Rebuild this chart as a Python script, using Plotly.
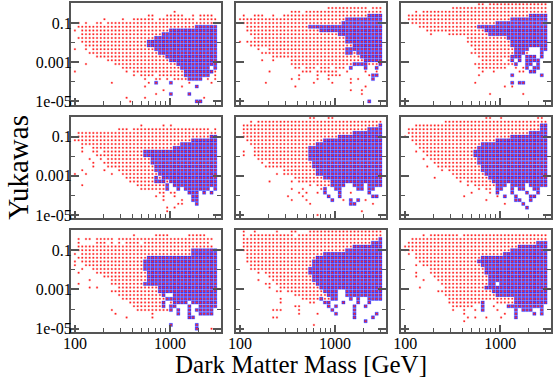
import plotly.graph_objects as go
from plotly.subplots import make_subplots

# scan grid: dark matter mass [GeV] (39 columns) and Yukawa coupling (27 rows)
MASS = [100, 109.4, 119.6, 130.8, 143.0, 156.4, 171.1, 187.1, 204.6, 223.7,
        244.7, 267.6, 292.6, 320.0, 350.0, 382.8, 418.6, 457.8, 500.7, 547.5,
        598.8, 654.8, 716.1, 783.2, 856.5, 936.7, 1024, 1120, 1225, 1340,
        1465, 1602, 1752, 1916, 2096, 2292, 2507, 2741, 3000]
YUK = [1.0e-5, 1.55e-5, 2.40e-5, 3.73e-5, 5.78e-5, 8.96e-5, 1.39e-4, 2.16e-4,
       3.34e-4, 5.18e-4, 8.03e-4, 1.245e-3, 1.93e-3, 2.99e-3, 4.64e-3, 7.20e-3,
       1.116e-2, 1.73e-2, 2.68e-2, 4.16e-2, 6.45e-2, 0.100, 0.155, 0.240,
       0.373, 0.578, 0.896]

X_TICKS = [100, 1000]
X_TEXT = ["100", "1000"]
X_MINOR = [200, 300, 400, 500, 600, 700, 800, 900, 2000, 3000]
Y_TICKS = [1e-5, 1e-3, 1e-1]
Y_TEXT = ["1e-05", "0.001", "0.1"]
Y_MINOR = [1e-4, 1e-2]

# each panel: rows from top (largest Yukawa) down, one char per mass column
# '.' nothing   'r' red point   'b' blue point (with red point on top)
P11 = [
    "..........|..........|..........|.........",
    "..........|..........|..........|.........",
    "..........|..........|.......r..|.........",
    "..........|..........|rr...rrrrr|..r.rrrr.",
    "........r.|...r..rrrr|rr.rrrrrrr|rrr.rrrrr",
    ".r.r..rr.r|rrrrrrrrrr|rrrrrrrrrr|rrrrrrrrr",
    ".rrrrrrrrr|rrrrrrrrrr|rrrrrrrrrr|rrrbbbbbb",
    "r.rrrrrrrr|rrrrrrrrrr|rrrrrrbbbb|bbbbbbbbb",
    "..rrrrrrrr|rrrrrrrrrr|rrrrbbbbbb|bbbbbbbbb",
    ".rrrrrrrrr|rrrrrrrrrr|rrbbbbbbbb|bbbbbbbbb",
    "..rrrrrrrr|rrrrrrrrrr|bbbbbbbbbb|bbbbbbbbb",
    "...rrrrrrr|rrrrrrrrrr|bbbbbbbbbb|bbbbbbbbb",
    "r..r.rrrrr|rrrrrrrrrr|rrbbbbbbbb|bbbbbbbbb",
    "....rrrrrr|rrrrrrrrrr|rrrbbbbbbb|bbbbbbbbb",
    "......rrrr|rrrrrrrrrr|rrrrrbbbbb|bbbbbbbbb",
    ".........r|rrrrrrrrrr|rrrrrrbbbb|bbbbbbbbb",
    "...r......|.rrrrrrrrr|rrrrrrrrbb|bbbbbbbbb",
    "..........|...rrrrrrr|rrrrrrrrrb|bbbbbbb.b",
    "r.........|....r.rrrr|rrrrrrrrrr|bbbbbbbbr",
    "..........|......r.rr|rr.rrrrrrr|bbbbbbb.r",
    "..........|.........r|..rr.r.rrr|rbbbb.r.r",
    "..........|r.........|r.b...b...|.r.....r.",
    "..........|.........r|.........r|...b.....",
    "..........|..........|....r.....|.........",
    "..........|..........|..r...b...|.b.......",
    "..........|....r....r|..........|.....r...",
    "..........|.....r....|..........|...bb....",
]
P12 = [
    "..........|..........|..........|.........",
    "..........|..........|....rrrrrr|rrrrr.rrr",
    "..........|....rrr.rr|rrrrrrrrrr|rrrrrrrrr",
    ".r..rrr..r|..rrrrrrrr|rrrrrrrrrr|rrrrrbbbb",
    "rrrrrrrrrr|rrrrrrrrrr|rrrrrrrrrb|bbbbbbbbb",
    ".rrrrrrrrr|rrrrrrrrrr|rrrrrrrrbb|bbbbbbbbb",
    "..rrrrrrrr|rrrrrrrrrb|bbbbbbbbbb|bbbbbbbbb",
    "..rrrrrrrr|rrrrrrrrrr|rrbbbbbbbb|bbbbbbbbb",
    "...rrrrrrr|rrrrrrrrrr|rrrrrrrbbb|bbbbbbbbb",
    "....rrrrrr|rrrrrrrrrr|rrrrrrrrrb|bbbbbbbbb",
    "r.rrrrrrrr|rrrrrrrrrr|rrrrrrrrrb|bbbbbbbbb",
    "...rrrrrrr|rrrrrrrrrr|rrrrrrrrrr|rbbbbbbbb",
    ".....r..rr|rrrrrrrrrr|rrrrrrrrrb|bbbbbbbbb",
    "......rrrr|rrrrrrrrrr|rrrrrrrrrb|brbbbbbbb",
    ".........r|rrrrrrrrrr|rrrrrrrrrr|rrrbbbbbb",
    "......r..r|....rrrrrr|rrrrrrrrrr|rrrrbbbbb",
    "..........|....rrrrrr|rrrrrrrrrr|rbbbbrrrb",
    "..........|.....rr.rr|r.rrr.rrr.|b...b..b.",
    "........r.|.......rrr|.rrrrrr..r|....r..r.",
    "..........|......r...|.r..rrrr..|.....rbb.",
    "..........|....r.r...|.r..r.....|r.r...b..",
    ".......r..|..........|r....r....|r........",
    "..........|.....r....|..........|....r....",
    "..........|..........|..........|r..r.....",
    "..........|..........|..........|...r.....",
    "..........|..........|..........|.........",
    "..........|..........|..........|.....b...",
]
P13 = [
    "..........|..........|rr.rrrrrrr|rrrrrrrrr",
    "..........|...rrrrrrr|rrrrrrrrrr|rrrrrrrrr",
    "...r.rrrrr|rrrrrrrrrr|rrrrrrrrrr|rrrrrrrrr",
    ".rrrrrrrrr|rrrrrrrrrr|rrrrrrrrrr|rrrrbbbbb",
    ".rrrrrrrrr|rrrrrrrrrr|rrrrrrrrrb|bbbbbbbbb",
    "r.rrrrrrrr|rrrrrrrrrr|rrrrrbbbbb|bbbbbbbbb",
    "....rrrrrr|rrrrrrrrrr|bbbbbbbbbb|bbbbbbbbb",
    "......rrrr|rrrrrrrrrr|rrbbbbbbbb|bbbbbbbbb",
    ".......r..|..rrrrrrrr|rrrbbbbbbb|bbbbbbbbb",
    "..........|.......rrr|rrrrrrrrbb|bbbbbbbbb",
    "..........|.......rrr|rrrrrrrrrb|bbbbbbbbb",
    "..........|........rr|rrrrrrrrrb|bbbbbbbbb",
    "..........|.........r|rrrrrrrrrr|bbbb...bb",
    "..........|........rr|rrrrrrrrrr|bbbr...b.",
    "..........|..........|rrrrrrrrrb|bb.bbb.b.",
    "..........|..........|.rrrrrr.rb|.b.bbbb..",
    "..........|.........r|rrrrrrrrrr|b..bb.b..",
    "..........|..........|rrrrrrrr..|r.rb.bb..",
    "..........|..........|.r..r.....|.rr.bb...",
    "..........|..........|r........b|.......b.",
    "..........|..........|..........|.........",
    "..........|.........r|.........b|.bb......",
    "..........|..........|.......r.r|.........",
    "..........|..........|..........|.........",
    "..........|..........|...r......|..r......",
    "..........|..........|..........|.........",
    "..........|..........|..........|.........",
]
P21 = [
    "..........|..........|..........|.........",
    "..........|..........|..........|.........",
    "..........|........r.|....r.r...|.........",
    "..........|..rrr.rrrr|rrrrrrrrrr|rrrrrrr.r",
    ".rrrrrrrrr|rrrrrrrrrr|rrrrrrrrrr|rrrrrrrrr",
    ".rrrrrrrrr|rrrrrrrrrr|rrrrrrrrrr|rrrrrrrbb",
    "rrrrrrrrrr|rrrrrrrrrr|rrrrrrrrrr|rrbbbbbbb",
    "..rrrrrrrr|rrrrrrrrrr|rrrrrrrrrb|bbbbbbbbb",
    "..r..rrrrr|rrrrrrrrrr|rrrrrrrbbb|bbbbbbbbb",
    "..r..rr.rr|rrrrrrrrrb|bbbbbbbbbb|bbbbbbbbb",
    "......rrrr|rrrrrrrrrb|bbbbbbbbbb|bbbbbbbbb",
    "....r..r.r|rrrrrrrrrr|rbbbbbbbbb|bbbbbbbbb",
    ".....r..rr|rrrrrrrrrr|rbbbbbbbbb|bbbbbbbbb",
    ".....r...r|rrrrrrrrrr|rrbbbbbbbb|bbbbbbbbb",
    "..r.....r.|..rrrrrrrr|rrbbbbbbbb|bbbbbbbbb",
    "r..r......|r..rrrrrrr|rrrbbbbbbb|bbbbbbbbb",
    "..........|....rrrrrr|rrbrbbbbbb|bbbbbbbbb",
    "..........|.....rrrrr|rrbbbrbbbb|bbbbbbbbb",
    "..r.......|.......rrr|rrrrrb.bbb|bbbbbbbbb",
    "..........|........rr|rrrrrb..b.|bbbbbbb.b",
    "..........|..........|...rr.rr..|.bbb.b.b.",
    "..........|..........|..r.r..r..|..bb.....",
    "..........|..........|....r....r|..bb.....",
    "..........|..........|........rr|...b.....",
    "..........|..........|.....r.r..|.........",
    "..........|..........|.....r....|.........",
    "..........|..........|..........|.........",
]
P22 = [
    "..........|.........r|r...rr....|.........",
    "...r.rrrrr|rrrrrrrrrr|rrrrrrrrrr|rrrrrrrrr",
    ".rrrrrrrrr|rrrrrrrrrr|rrrrrrrrrr|rrrrrrrrb",
    ".rrrrrrrrr|rrrrrrrrrr|rrrrrrrrrr|rrrrrbbbb",
    ".rrrrrrrrr|rrrrrrrrrr|rrrrrrrrrr|rbbbbbbbb",
    ".rrrrrrrrr|rrrrrrrrrr|rrrrrrrbbb|bbbbbbbbb",
    "..rrrrrrrr|rrrrrrrrrr|rrrbbbbbbb|bbbbbbbbb",
    "...rrrrrrr|rrrrrrrrrr|rbbbbbbbbb|bbbbbbbbb",
    "....rrrrrr|rrrrrrrrrb|bbbbbbbbbb|bbbbbbbbb",
    ".r..rrrrrr|rrrrrrrrrb|bbbbbbbbbb|bbbbbbbbb",
    ".r..rrrrrr|rrrrrrrrrb|bbbbbbbbbb|bbbbbbbbb",
    ".....rrrrr|rrrrrrrrrb|bbbbbbbbbb|bbbbbbbbb",
    "......r.rr|rrrrrrrrrr|bbbbbbbbbb|bbbbbbbbb",
    ".......rrr|rrrrrrrrrr|bbbbbbbbbb|bbbbbbbbb",
    "..........|..rrrrrrrr|rbbbbbbbbb|bbbbbbbbb",
    "..........|r.rrrrrrrr|rbbbbbbbbb|bbbbbbbbb",
    "..........|.....rrrrr|rrrbbbbbbb|bbbbbbbbb",
    "........r.|....r.rrrr|rrrrrbbbbb|bbbbbbbbb",
    "..........|.........r|.rrrrbbbb.|.bbb.bbbb",
    "..........|....r..r..|..rb..bb..|..bb.bb..",
    "..........|......r.r.|.r.b...b..|r....b...",
    "..........|...r...r..|....b..b..|......bb.",
    "..........|....r...r.|.....b..r.|b.b.r....",
    "..........|.........r|..........|bb....r..",
    "..........|..........|..........|.........",
    "..........|..........|..........|...r.....",
    "..........|..........|.r........|.........",
]
P23 = [
    "..........|..........|..rr..r...|......rr.",
    "..........|.rrrrrrrrr|rrrrrrrrrr|rrrrrrrrr",
    "...rrrrrrr|rrrrrrrrrr|rrrrrrrrrr|rrrrrrrbb",
    ".rrrrrrrrr|rrrrrrrrrr|rrrrrrrrrr|rrrrrrrbb",
    ".rrrrrrrrr|rrrrrrrrrr|rrrrrrrrrr|rrrrbbbbb",
    "r.rrrrrrrr|rrrrrrrrrr|rrrrrrrrrb|bbbbbbbbb",
    "..rrrrrrrr|rrrrrrrrrr|rrrrrbbbbb|bbbbbbbbb",
    "...rrrrrrr|rrrrrrrrrr|rbbbbbbbbb|bbbbbbbbb",
    "....rrrrrr|rrrrrrrrrr|bbbbbbbbbb|bbbbbbbbb",
    "...r.rrrrr|rrrrrrrrrb|bbbbbbbbbb|bbbbbbbbb",
    "......rrrr|rrrrrrrrrb|bbbbbbbbbb|bbbbbbbbb",
    ".....r.rrr|rrrrrrrrrr|bbbbbbbbbb|bbbbbbbbb",
    "........rr|rrrrrrrrrr|bbbbbbbbbb|bbbbbbbbb",
    "......r..r|rrrrrrrrrr|rbbbbbbbbb|bbbbbbbbb",
    "..........|r.rrrrrrrr|rbbbbbbbbb|bbbbbbbbb",
    "..........|...rrrrrrr|rrbbbbbbbb|bbbbbbbbb",
    "........r.|....rrrrrr|rrrbbbbbbb|bbbbbbbbb",
    "..........|.....r.rrr|rrrrbbbbbb|bbbbbbbbb",
    "..........|.......r.r|rrrrrbbb.b|bbb.bbbbb",
    "..........|..........|r.rr.bb..b|.bb..bb..",
    "..........|........r.|...r.b...b|...b..b..",
    "..........|......r...|.....r.b..|b...bb...",
    "..........|..........|..r.......|bb..b....",
    "..........|..........|.......r..|..b......",
    "..........|..........|..........|...b.....",
    "..........|..........|..........|.........",
    "..........|..........|..........|.........",
]
P31 = [
    "..........|..........|..........|.........",
    "..........|......r...|..rrrr....|.rrrrr...",
    ".r.rr.rrrr|r.rrrrrrrr|rrrrrrrrrr|rrrrrrrr.",
    ".r....rrr.|r.r.rrrr.r|rrrrrrrrrr|rrrrrrr..",
    ".rrrrrrrrr|rrrrrrrrrr|rrrrrrrrrr|rrrrrrrr.",
    ".rrrrrrrrr|rrrrrrrrrr|rrrrrrrrrr|rrbbbbbbb",
    "r.rrrrrrrr|rrrrrrrrrr|rrrrrrrrrr|rrbbbbbbb",
    ".rrrrrrrrr|rrrrrrrrrr|bbbbbbbbbb|bbbbbbbbb",
    "r.rrrrrrrr|rrrrrrrrrb|bbbbbbbbbb|bbbbbbbbb",
    "r..rrrrrrr|rrrrrrrrrb|bbbbbbbbbb|bbbbbbbbb",
    "..r..rrrrr|rrrrrrrrrb|bbbbbbbbbb|bbbbbbbbb",
    ".r....rrrr|rrrrrrrrrr|bbbbbbbbbb|bbbbbbbbb",
    "........rr|rrrrrrrrrr|bbbbbbbbbb|bbbbbbbbb",
    "....r.....|rrrrrrrrrr|bbbbbbbbbb|bbbbbbbbb",
    ".r........|rrrrrrrrrb|bbbbbbbbbb|bbbbbbbbb",
    "....r.r...|..rrrrrrrr|rrrbbbbbbb|bbbbbbbbb",
    "..........|rrrrrrrrrr|rrrbbbbbbb|bbbbbbbbb",
    "..........|..rrrrrrrr|rrrrb..bbb|bbbbbbbbb",
    "..........|...rrrrrrr|rrrrrbbbbb|bbbbbbbbb",
    "..........|.....rrrrr|rrrrb.rbbb|b.bbbbbbb",
    "..........|......rrrr|rrrrb.bb..|.b..bbbbb",
    "..........|r......rrr|rrrrrrb.b.|.b.bbbbb.",
    "..........|.r........|.r......b.|.b..bbbb.",
    "..........|....r.....|.r........|.bb......",
    "..........|..........|..........|.........",
    "..........|..........|......b...|...b.....",
    "..........|..........|..........|...b...r.",
]
P32 = [
    ".r..r.....|r...rr...r|rrrrrrrrrr|rrrrrrrrr",
    ".r.rrrrrrr|rrrrr.rrrr|rrrrrrrrrr|rrrrrrrrr",
    ".rrrrrrrrr|rrrrrrrrrr|rrrrrrrrrr|rrrrrrrrb",
    ".rrrrrrrrr|rrrrrrrrrr|rrrrrrrrrr|rrrrrrbbb",
    ".rrrrrrrrr|rrrrrrrrrr|rrrrrrrrrr|rbbbbbbbb",
    ".rrrrrrrrr|rrrrrrrrrr|rrrrrrrrrb|bbbbbbbbb",
    "..rrrrrrrr|rrrrrrrrrr|rrrbbbbbbb|bbbbbbbbb",
    "..rrrrrrrr|rrrrrrrrrr|rbbbbbbbbb|bbbbbbbbb",
    "..rrrrrrrr|rrrrrrrrrr|bbbbbbbbbb|bbbbbbbbb",
    "...rrrrrrr|rrrrrrrrrr|bbbbbbbbbb|bbbbbbbbb",
    "...rrrrrrr|rrrrrrrrrb|bbbbbbbbbb|bbbbbbbbb",
    ".....r.rrr|rrrrrrrrrb|bbbbbbbbbb|bbbbbbbbb",
    "........rr|rrrrrrrrrr|bbbbbbbbbb|bbbbbbbbb",
    ".....r...r|rrrrrrrrrr|bbbbbbbbbb|bbbbbbbbb",
    ".......rr.|rrrrrrrrrr|rbbbbbbbbb|bbbbbbbbb",
    "........r.|.rrrrrrrrr|rrbbbbbbbb|bbbbbbbbb",
    "..........|rr.rrrrrrr|rrrbbbb..b|bbbbbbbbb",
    "..........|.....rrrrr|rrrrbbb..b|bbbbbbbbb",
    "..........|.r.....rrr|rrbrrbb...|b.b..bbbb",
    "..........|.r.......r|r..bb...b.|..b..b...",
    "..........|.....rr...|....b.b...|.b..b....",
    ".........r|rr....r...|.....b....|.b.......",
    "..........|......r...|.r....b...|.b.....b.",
    ".........r|r.........|..........|.b....b..",
    "..........|..........|..........|....b....",
    "..........|..........|r.........|.........",
    "..........|..........|..........|.........",
]
P33 = [
    "..........|..........|..........|.........",
    ".....r.rrr|rrrrr.rrrr|rrrrrrrrrr|rrrrrrrrr",
    "..rrrrrrrr|rrrrrrrrrr|rrrrrrrrrr|rrrrrrrrr",
    ".rrrrrrrrr|rrrrrrrrrr|rrrrrrrrrr|rrrrrrbbb",
    "rrrrrrrrrr|rrrrrrrrrr|rrrrrrrrrr|rbbbbbbbb",
    "rrrrrrrrrr|rrrrrrrrrr|rrrrrrrrrb|bbbbbbbbb",
    ".r.rrrrrrr|rrrrrrrrrr|rrrrrrrbbb|bbbbbbbbb",
    "...rrrrrrr|rrrrrrrrrr|rbbbbbbbbb|bbbbbbbbb",
    "....rrrrrr|rrrrrrrrrr|bbbbbbbbbb|bbbbbbbbb",
    "...r.rrrrr|rrrrrrrrrr|rbbbbbbbbb|bbbbbbbbb",
    ".......rrr|rrrrrrrrrr|rrbbbbbbbb|bbbbbbbbb",
    "...r...rrr|rrrrrrrrrr|rrbbbbbbbb|bbbbbbbbb",
    "...r....rr|rrrrrrrrrr|rrrbbbbbbb|bbbbbbbbb",
    ".....r...r|rrrrrrrrrr|rrrbbbbbbb|bbbbbbbbb",
    "..........|rrrrrrrrrr|rrrbb.bbbb|bbbbbbbbb",
    "....r.....|.rrrrrrrrr|rrbbbbbbbb|bbbbbbbbb",
    ".........r|rrrrrrrrrr|rrrrbbbbbb|bbbbbbbbb",
    "..........|.rrrrrrrrr|rrrrrbbbbb|bbbbbbbbb",
    "..........|..rrrrrrrr|rrrrrrrrrr|bbbbbbbbb",
    "..........|..rrrrrrrr|rb...rrrrr|bbbbbbbbb",
    "..........|...rrrrrr.|.b..r...bb|bbbbbbbb.",
    "..........|...r..r..r|.b...r....|b.bbb..b.",
    "..........|......r...|.......r..|b....b.b.",
    "..........|.......r.r|..r...r...|b........",
    "..........|......r...|..........|.........",
    "..........|..........|..........|.........",
    "..........|..........|..........|.........",
]

PANELS = [[P11, P12, P13], [P21, P22, P23], [P31, P32, P33]]

AXIS_COL = "#555555"
FONT = "Liberation Serif"

fig = make_subplots(rows=3, cols=3, horizontal_spacing=0.032, vertical_spacing=0.036)

for r, prow in enumerate(PANELS):
    for c, panel in enumerate(prow):
        bx, by, rx, ry = [], [], [], []
        for j, line in enumerate(panel):
            cells = line.replace("|", "").ljust(len(MASS), ".")[:len(MASS)]
            yv = YUK[len(YUK) - 1 - j]
            for i, ch in enumerate(cells):
                if ch in "bB":
                    bx.append(MASS[i])
                    by.append(yv)
                if ch in "rb":
                    rx.append(MASS[i])
                    ry.append(yv)
        fig.add_trace(go.Scatter(
            x=bx, y=by, mode="markers", hoverinfo="skip",
            marker=dict(symbol="square", size=3.2, color="#1414ff",
                        line=dict(width=0.4, color="#6a6aff"))),
            row=r + 1, col=c + 1)
        fig.add_trace(go.Scatter(
            x=rx, y=ry, mode="markers", hoverinfo="skip",
            marker=dict(symbol="square", size=1.5, color="#ff0000",
                        line=dict(width=0.4, color="#ff6a6a"))),
            row=r + 1, col=c + 1)

fig.update_xaxes(
    type="log", range=[1.959, 3.535],
    tickmode="array", tickvals=X_TICKS, ticktext=X_TEXT,
    ticks="inside", ticklen=7, tickwidth=1.5, tickcolor=AXIS_COL,
    minor=dict(tickmode="array", tickvals=X_MINOR, ticks="inside", ticklen=4,
               tickwidth=1, tickcolor=AXIS_COL, showgrid=False),
    showline=True, linecolor=AXIS_COL, linewidth=2, mirror=True,
    showgrid=False, zeroline=False, showticklabels=False,
    tickfont=dict(family=FONT, size=16, color="black"))
fig.update_yaxes(
    type="log", range=[-5.17, 0.02],
    tickmode="array", tickvals=Y_TICKS, ticktext=Y_TEXT,
    ticks="inside", ticklen=8, tickwidth=1.5, tickcolor=AXIS_COL,
    minor=dict(tickmode="array", tickvals=Y_MINOR, ticks="inside", ticklen=4,
               tickwidth=1, tickcolor=AXIS_COL, showgrid=False),
    showline=True, linecolor=AXIS_COL, linewidth=2, mirror="ticks",
    showgrid=False, zeroline=False, showticklabels=False,
    tickfont=dict(family=FONT, size=16, color="black"))

for c in range(1, 4):
    fig.update_xaxes(showticklabels=True, ticklabelstandoff=-4, row=3, col=c)
for r in range(1, 4):
    fig.update_yaxes(showticklabels=True, ticklabelstandoff=-6, row=r, col=1)

fig.add_annotation(text="Dark Matter Mass [GeV]", xref="paper", yref="paper",
                   x=0.479, y=-0.098, xanchor="center", yanchor="middle",
                   showarrow=False, font=dict(family=FONT, size=25, color="black"))
fig.add_annotation(text="Yukawas", xref="paper", yref="paper",
                   x=-0.112, y=0.5, xanchor="center", yanchor="middle",
                   textangle=-90, showarrow=False,
                   font=dict(family=FONT, size=29, color="black"))

fig.update_layout(
    width=554, height=377,
    margin=dict(l=71, r=1, t=1, b=45),
    showlegend=False,
    paper_bgcolor="white", plot_bgcolor="white")

# the page body keeps the browser's 8px margin otherwise
fig.write_html("out.html", config={"displayModeBar": False},
               post_script="document.body.style.margin = '0';")
